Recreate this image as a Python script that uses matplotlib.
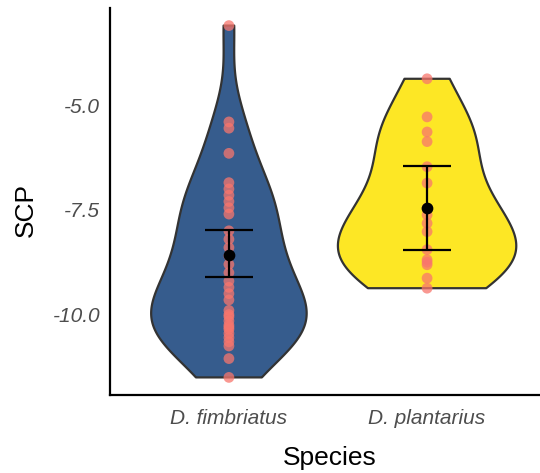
import numpy as np
import matplotlib
matplotlib.use("Agg")
import matplotlib.pyplot as plt

# ---- data ----
species = ["D. fimbriatus", "D. plantarius"]
scp_fimbriatus = [-3.1, -5.4, -5.55, -6.15, -6.85, -7.0, -7.15, -7.3, -7.45, -7.6,
                  -8.0, -8.2, -8.4, -8.6, -8.8, -9.0, -9.2, -9.35, -9.5, -9.65,
                  -9.9, -10.0, -10.05, -10.15, -10.25, -10.3, -10.35, -10.45,
                  -10.55, -10.65, -10.75, -11.05, -11.5]
scp_plantarius = [-4.37, -5.28, -5.64, -5.87, -6.47, -6.86, -7.46, -7.62, -7.82,
                  -8.02, -8.45, -8.69, -8.75, -8.81, -9.13, -9.37]
summary_mean = [-8.57, -7.46]
summary_lower = [-9.11, -8.45]
summary_upper = [-7.98, -6.45]
fill_colors = ["#365C8D", "#FDE725"]
y_ticks = [-5.0, -7.5, -10.0]

groups = [scp_fimbriatus, scp_plantarius]

def kde_nrd0(vals, grid):
    v = np.asarray(vals)
    n = len(v)
    sd = v.std(ddof=1)
    iqr = np.subtract(*np.percentile(v, [75, 25]))
    lo = min(sd, iqr / 1.34)
    bw = 0.9 * lo * n ** (-0.2)
    d = np.exp(-0.5 * ((grid[:, None] - v[None, :]) / bw) ** 2).sum(1)
    return d / (n * bw * np.sqrt(2 * np.pi))

W, H = 540, 473
fig = plt.figure(figsize=(W / 100, H / 100), dpi=100)
ax = fig.add_axes([110 / W, 1 - 395 / H, (546 - 110) / W, (395 - 8) / H])

grids, dens = [], []
for g in groups:
    gr = np.linspace(min(g), max(g), 512)
    grids.append(gr)
    dens.append(kde_nrd0(g, gr))
dmax = max(d.max() for d in dens)

for i, (g, gr, d) in enumerate(zip(groups, grids, dens)):
    x = i + 1
    hw = d / dmax * 0.45
    xs = np.concatenate([x - hw, (x + hw)[::-1]])
    ys = np.concatenate([gr, gr[::-1]])
    ax.fill(xs, ys, facecolor=fill_colors[i], edgecolor="#333333", lw=1.6,
            joinstyle="round", zorder=1)
    ax.scatter(np.full(len(g), x), g, s=60, color="#F8766D", alpha=0.75,
               edgecolors="none", zorder=2)

xpos = np.arange(1, len(species) + 1)
ax.vlines(xpos, summary_lower, summary_upper, color="black", lw=1.6, zorder=3)
for x, lo, hi in zip(xpos, summary_lower, summary_upper):
    ax.hlines([lo, hi], x - 0.12, x + 0.12, color="black", lw=1.6, zorder=3)
ax.scatter(xpos, summary_mean, s=55, color="black", zorder=4)

ax.set_xlim(0.4, 2.6)
allv = scp_fimbriatus + scp_plantarius
rng = max(allv) - min(allv)
ax.set_ylim(min(allv) - 0.05 * rng, max(allv) + 0.05 * rng)

ax.set_xticks(xpos)
ax.set_xticklabels(species)
ax.set_yticks(y_ticks)
ax.set_yticklabels([f"{t:.1f}" for t in y_ticks])
for lab in ax.get_xticklabels() + ax.get_yticklabels():
    lab.set_fontfamily("Liberation Sans")
    lab.set_fontstyle("italic")
    lab.set_fontsize(15)
    lab.set_color("#4D4D4D")
ax.tick_params(axis="x", length=0, pad=10)
ax.tick_params(axis="y", length=0, pad=7)

for s in ["top", "right"]:
    ax.spines[s].set_visible(False)
for s in ["left", "bottom"]:
    ax.spines[s].set_linewidth(1.6)
    ax.spines[s].set_color("black")

ax.set_xlabel("Species", fontfamily="Liberation Sans", fontsize=19)
ax.set_ylabel("SCP", fontfamily="Liberation Sans", fontsize=19)
ax.xaxis.set_label_coords((330 - 110) / (546 - 110), -(458 - 395) / (395 - 8))
ax.yaxis.set_label_coords(-(110 - 26) / (546 - 110), (395 - 210) / (395 - 8))
ax.xaxis.label.set_va("center")
ax.yaxis.label.set_va("center")

fig.savefig("out.png", dpi=100)
